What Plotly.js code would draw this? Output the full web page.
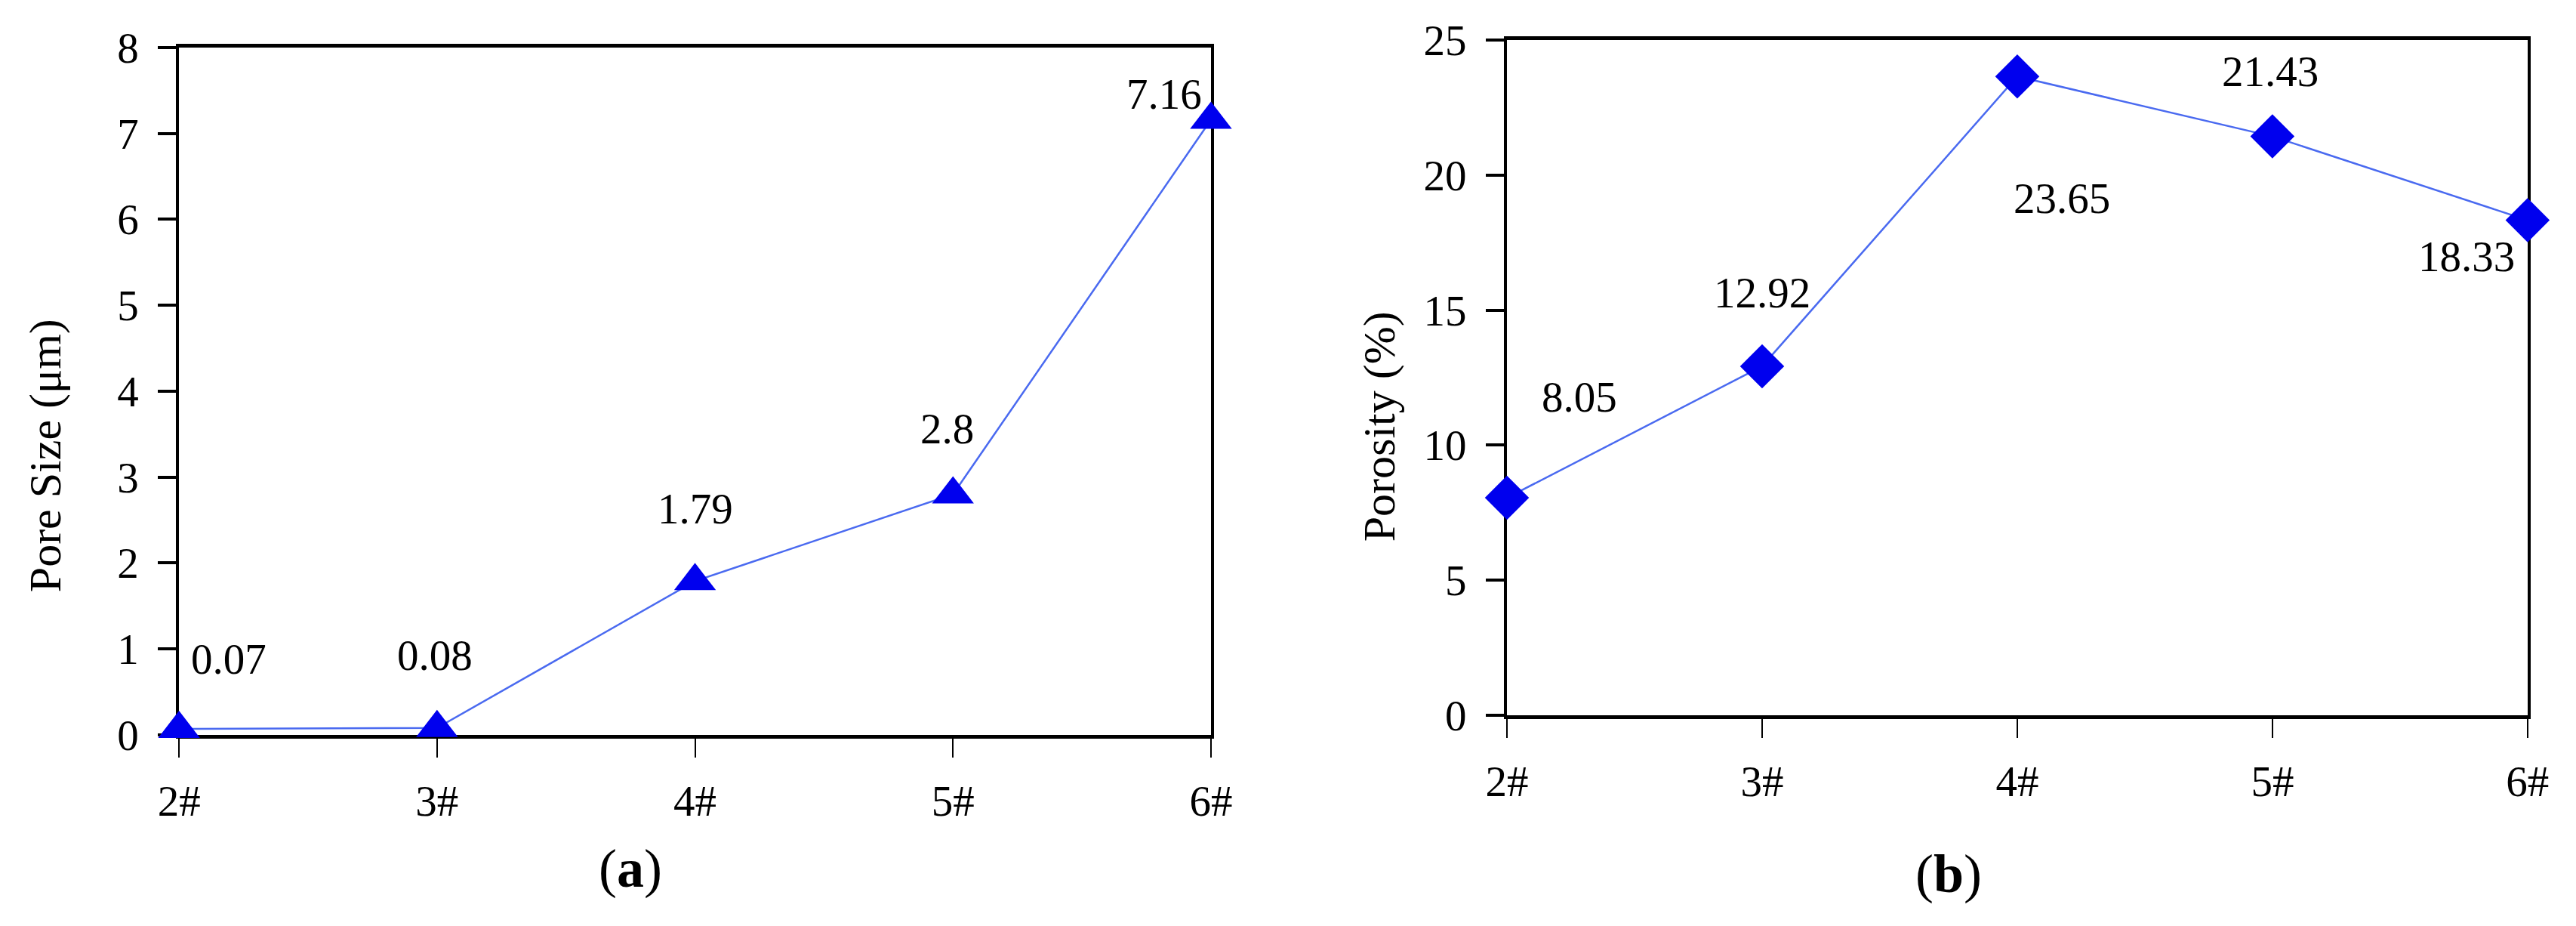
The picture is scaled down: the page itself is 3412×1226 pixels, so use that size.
<!DOCTYPE html>
<html>
<head>
<meta charset="utf-8">
<script src="https://cdn.plot.ly/plotly-3.0.1.min.js"></script>
<style>
  html, body { margin: 0; padding: 0; background: #fff; }
  #chart { width: 3412px; height: 1226px; }
</style>
</head>
<body>
<div id="chart"></div>
<script>
// samples on the x axis
let samples = ["2#", "3#", "4#", "5#", "6#"]

// (a) pore size in um
let pore_size = [0.07, 0.08, 1.79, 2.8, 7.16]
let pore_ticks = [0, 1, 2, 3, 4, 5, 6, 7, 8]

// (b) porosity in %
let porosity = [8.05, 12.92, 23.65, 21.43, 18.33]
let porosity_ticks = [0, 5, 10, 15, 20, 25]

// where each value label sits relative to its point (px)
let pore_label_shift = [[66, 92], [-3, 96], [0, 96], [-8, 87], [-62, 34]]
let porosity_label_shift = [[96, 134], [0, 97], [59, -161], [-3, 86], [-81, -48]]

let font_name = "Liberation Serif"
let line_blue = "#4a6af0"
let marker_blue = "#0000ee"

// Set up the two traces
let trace_a = {
    x: samples,
    y: pore_size,
    type: "scatter",
    mode: "lines+markers",
    line: {color: line_blue, width: 2.5},
    marker: {symbol: "triangle-up", size: 48, color: marker_blue},
    cliponaxis: false,
    hoverinfo: "skip",
    xaxis: "x",
    yaxis: "y"
  };

let trace_b = {
    x: samples,
    y: porosity,
    type: "scatter",
    mode: "lines+markers",
    line: {color: line_blue, width: 2.5},
    marker: {symbol: "diamond", size: 45, color: marker_blue},
    cliponaxis: false,
    hoverinfo: "skip",
    xaxis: "x2",
    yaxis: "y2"
  };

// shared axis styling
function x_axis(domain, anchor) {
  return {
    domain: domain, anchor: anchor, type: "category", range: [0, 4],
    showline: true, mirror: true, linecolor: "#000", linewidth: 5,
    ticks: "outside", ticklen: 25, tickwidth: 2, tickcolor: "#000",
    ticklabelstandoff: 9,
    showgrid: false, zeroline: false, fixedrange: true, layer: "below traces",
    tickfont: {family: font_name, size: 57, color: "#000"}
  };
}

function y_axis(domain, anchor, top, ticks) {
  return {
    domain: domain, anchor: anchor, range: [0, top],
    tickvals: ticks, ticktext: ticks.map(String),
    showline: true, mirror: true, linecolor: "#000", linewidth: 4,
    ticks: "outside", ticklen: 24, tickwidth: 4, tickcolor: "#000",
    ticklabelstandoff: 14,
    showgrid: false, zeroline: false, fixedrange: true, layer: "below traces",
    tickfont: {family: font_name, size: 57, color: "#000"}
  };
}

// value labels next to each point
let annotations = [];
samples.forEach(function(s, i) {
  annotations.push({
    x: s, y: pore_size[i], xref: "x", yref: "y",
    text: String(pore_size[i]), showarrow: false,
    xshift: pore_label_shift[i][0], yshift: pore_label_shift[i][1],
    font: {family: font_name, size: 57, color: "#000"}
  });
  annotations.push({
    x: s, y: porosity[i], xref: "x2", yref: "y2",
    text: String(porosity[i]), showarrow: false,
    xshift: porosity_label_shift[i][0], yshift: porosity_label_shift[i][1],
    font: {family: font_name, size: 57, color: "#000"}
  });
});

// axis titles and panel letters
let title_font = {family: font_name, size: 60, color: "#000"};
let letter_font = {family: font_name, size: 72, color: "#000"};
annotations.push(
  {xref: "paper", yref: "paper", x: 0.0176, y: 0.508, xanchor: "center", yanchor: "middle",
   text: "Pore Size (\u03bcm)", textangle: -90, showarrow: false, font: title_font},
  {xref: "paper", yref: "paper", x: 0.5355, y: 0.539, xanchor: "center", yanchor: "middle",
   text: "Porosity (%)", textangle: -90, showarrow: false, font: title_font},
  {xref: "paper", yref: "paper", x: 0.2447, y: 0.062, xanchor: "center", yanchor: "middle",
   text: "(<b>a</b>)", showarrow: false, font: letter_font},
  {xref: "paper", yref: "paper", x: 0.7565, y: 0.056, xanchor: "center", yanchor: "middle",
   text: "(<b>b</b>)", showarrow: false, font: letter_font}
);

let layout = {
    width: 3412,
    height: 1226,
    margin: {l: 0, r: 0, t: 0, b: 0},
    paper_bgcolor: "#fff",
    plot_bgcolor: "#fff",
    showlegend: false,
    xaxis: x_axis([0.0695, 0.4701], "y"),
    yaxis: y_axis([0.2064, 0.9486], "x", 8, pore_ticks),
    xaxis2: x_axis([0.5850, 0.9812], "y2"),
    yaxis2: y_axis([0.2276, 0.9568], "x2", 25, porosity_ticks),
    annotations: annotations
  };

Plotly.newPlot("chart", [trace_a, trace_b], layout, {staticPlot: true});
</script>
</body>
</html>
